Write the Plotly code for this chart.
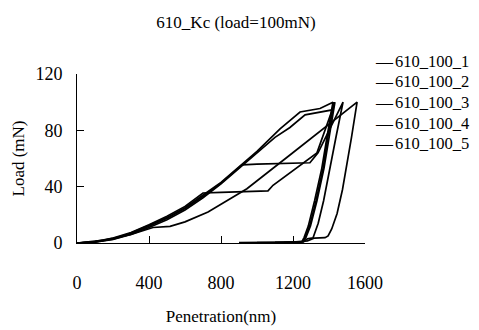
import plotly.graph_objects as go

names = ["610_100_1", "610_100_2", "610_100_3", "610_100_4", "610_100_5"]

# Penetration (nm) / Load (mN) for each indentation (loading then unloading)
x1 = [0, 100, 200, 300, 400, 500, 600, 700, 800, 900, 1000, 1128, 1239, 1350, 1422,
      1390, 1360, 1320, 1285, 1262, 1250, 1230, 1100, 950]
y1 = [0, 0.8, 3, 7, 12.5, 18, 25, 34, 43, 54, 65, 81, 93, 95.5, 100,
      76, 53, 30, 12, 4, 1, 0.5, 0.3, 0]

x2 = [0, 100, 200, 300, 400, 500, 600, 700, 800, 900, 1000, 1100, 1183, 1267, 1417, 1428,
      1395, 1367, 1328, 1292, 1268, 1255, 1150, 1000]
y2 = [0, 0.6, 2.5, 6, 11, 16.5, 23.5, 32, 42, 53, 63.5, 75, 82, 91, 94.5, 100,
      76, 53, 30, 12, 4, 1, 0.4, 0.2]

x3 = [0, 100, 200, 300, 400, 500, 600, 700, 800, 900, 1000, 1061, 1089, 1333, 1433,
      1400, 1372, 1333, 1297, 1272, 1258, 1200, 900]
y3 = [0, 1, 3.5, 7.5, 13, 19, 26, 35.5, 36, 36.3, 36.6, 37, 41, 64, 100,
      76, 53, 30, 12, 4, 1, 0.6, 0.3]

x4 = [0, 100, 200, 300, 400, 500, 600, 700, 800, 917, 1000, 1100, 1200, 1294, 1339, 1478,
      1440, 1406, 1370, 1340, 1318, 1311, 1280, 1260, 1100]
y4 = [0, 0.7, 2.8, 6.5, 12, 17.5, 24.5, 33, 42.5, 55.5, 56, 56.3, 56.6, 57, 64, 100,
      76, 53, 30, 14, 5, 3.6, 3, 1, 0.5]

x5 = [0, 150, 300, 422, 517, 600, 728, 944, 1183, 1400, 1556,
      1525, 1500, 1475, 1445, 1415, 1395, 1378, 1320, 1280, 1200]
y5 = [0, 2, 6, 11, 11.8, 15, 22, 38.5, 62.5, 84, 100,
      75, 56, 38, 21, 10, 5, 3.8, 3.5, 1.5, 0.6]

xs = [x1, x2, x3, x4, x5]
ys = [y1, y2, y3, y4, y5]

x_ticks = [0, 400, 800, 1200, 1600]
y_ticks = [0, 40, 80, 120]

FONT = "Liberation Serif"

# page body adds an 8px offset, so the figure is laid out 8px smaller
W, H = 471, 322
L, T, PW, PH = 69, 66, 288, 169

fig = go.Figure()
for n, xv, yv in zip(names, xs, ys):
    fig.add_trace(go.Scatter(x=xv, y=yv, mode="lines", name=n, showlegend=False,
                             line=dict(color="black", width=1.7)))

# legend drawn as text entries (short dash + name), stacked on the right
for i, n in enumerate(names):
    yp = (T + PH - (53 + i * 20.7)) / PH
    fig.add_annotation(text="\u2014", xref="paper", yref="paper",
                       x=(365 - L) / PW, y=yp, xanchor="left", yanchor="middle",
                       showarrow=False, font=dict(family=FONT, size=17, color="black"))
    fig.add_annotation(text=n, xref="paper", yref="paper",
                       x=(385 - L) / PW, y=yp, xanchor="left", yanchor="middle",
                       showarrow=False, font=dict(family=FONT, size=16.5, color="black"))

fig.update_layout(
    width=W, height=H,
    margin=dict(l=L, r=W - L - PW, t=T, b=H - T - PH, autoexpand=False),
    paper_bgcolor="white", plot_bgcolor="white",
    font=dict(family=FONT, size=18, color="black"),
    title=dict(text="610_Kc (load=100mN)", x=228 / W, xref="container", xanchor="center",
               y=1 - 14 / H, yref="container", yanchor="middle",
               font=dict(family=FONT, size=17, color="black")),
    showlegend=False,
)
fig.update_xaxes(range=[0, 1600], tickvals=x_ticks, showline=True, linecolor="black",
                 linewidth=1, ticks="inside", ticklen=7, tickcolor="black",
                 showgrid=False, zeroline=False, ticklabelstandoff=23,
                 title=dict(text="Penetration(nm)", standoff=18,
                            font=dict(family=FONT, size=17)))
fig.update_yaxes(range=[0, 120], tickvals=y_ticks, showline=True, linecolor="black",
                 linewidth=1, ticks="inside", ticklen=7, tickcolor="black",
                 showgrid=False, zeroline=False, ticklabelstandoff=10,
                 title=dict(text="Load (mN)", standoff=6,
                            font=dict(family=FONT, size=17)))

fig.write_html("out.html")
